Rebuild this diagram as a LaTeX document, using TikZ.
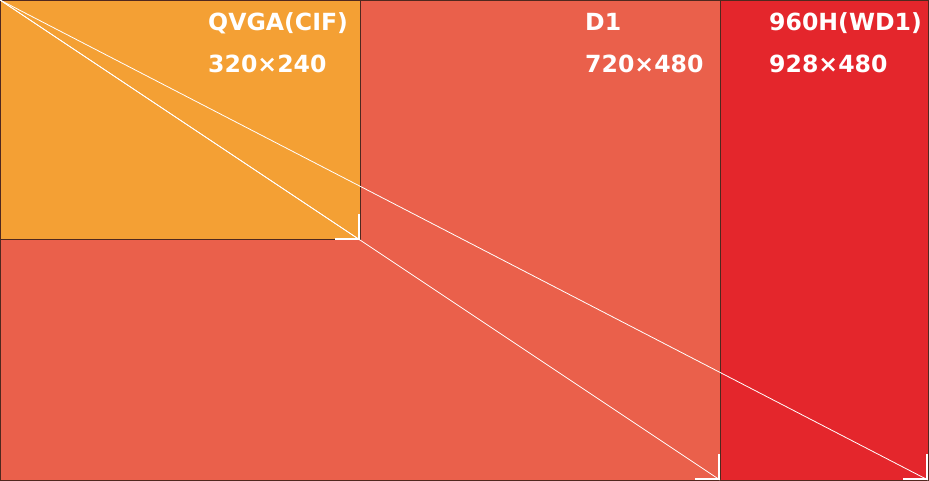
\documentclass[tikz,border=0pt]{standalone}
\usepackage{fontspec}
\setmainfont{DejaVu Sans}
\definecolor{cOrange}{RGB}{244,160,52}
\definecolor{cSalmon}{RGB}{234,96,75}
\definecolor{cRed}{RGB}{228,38,44}
\definecolor{cEdge}{RGB}{80,40,30}
\begin{document}
\begin{tikzpicture}[x=1pt,y=-1pt,
  area/.style={draw=cEdge,line width=1pt},
  ray/.style={draw=white,line width=0.8pt},
  cornermark/.style={draw=white,line width=1.4pt},
  lbl/.style={anchor=base west,inner sep=0pt,text=white,font=\fontsize{23.6}{28}\selectfont\bfseries}]
\useasboundingbox (0,0) rectangle (929,481);
\coordinate (O) at (0,0);
\coordinate (cq) at (360,240);
\coordinate (cd) at (720,480);
\coordinate (cw) at (928,480);
\fill[cSalmon] (0,0) rectangle (720,480);
\fill[cRed] (720,0) rectangle (928,480);
\fill[cOrange] (0,0) rectangle (360,240);
\draw[area] (0.5,0.5) rectangle (720,480.5);
\draw[area] (720,0.5) rectangle (928.5,480.5);
\draw[area] (0.5,0.5) rectangle (cq);
\draw[ray] (O) -- (cq);
\draw[ray] (O) -- (cd);
\draw[ray] (O) -- (cw);
\draw[cornermark] ([shift={(-1,-26)}]cq) -- ([shift={(-1,-1)}]cq) -- ([shift={(-25,-1)}]cq);
\draw[cornermark] ([shift={(-1,-26)}]cd) -- ([shift={(-1,-1)}]cd) -- ([shift={(-25,-1)}]cd);
\draw[cornermark] ([shift={(-1,-26)}]cw) -- ([shift={(-1,-1)}]cw) -- ([shift={(-25,-1)}]cw);
\node[lbl] (t1) at (208,31) {QVGA(CIF)};
\node[lbl] (t2) at (208,73) {320×240};
\node[lbl] (t3) at (585,31) {D1};
\node[lbl] (t4) at (585,73) {720×480};
\node[lbl] (t5) at (769,31) {960H(WD1)};
\node[lbl] (t6) at (769,73) {928×480};
\end{tikzpicture}
\end{document}
